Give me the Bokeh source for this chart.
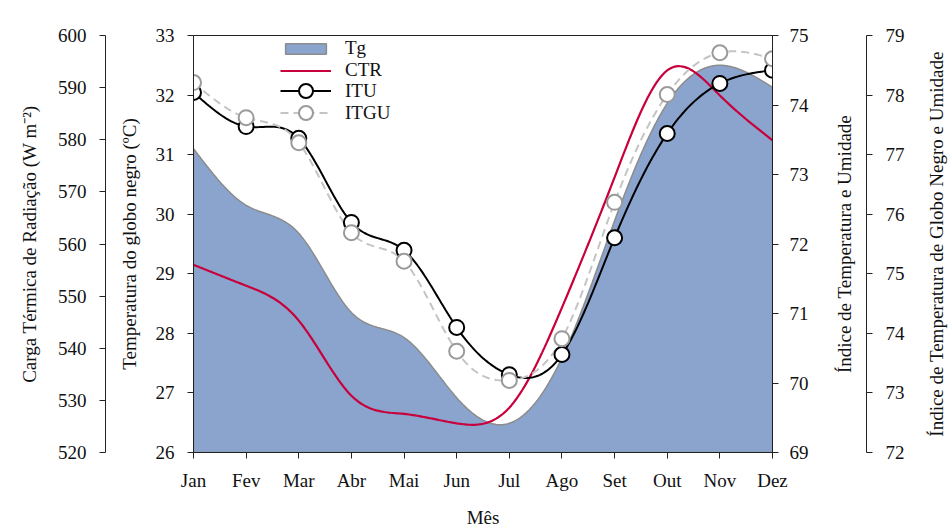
import math
import numpy as np
from bokeh.plotting import figure
from bokeh.layouts import row
from bokeh.models import Range1d, LinearAxis, FixedTicker, Legend, LegendItem
from bokeh.core.properties import value
from bokeh.embed import file_html
from bokeh.resources import INLINE

# ---------------- data ----------------
months = ["Jan", "Fev", "Mar", "Abr", "Mai", "Jun", "Jul", "Ago", "Set", "Out", "Nov", "Dez"]
tg = [31.10, 30.15, 29.68, 28.35, 27.93, 26.92, 26.49, 27.59, 29.89, 31.86, 32.50, 32.13]
ctr = [556.0, 552.0, 545.3, 530.9, 527.4, 525.6, 528.6, 547.8, 572.8, 593.3, 588.5, 579.9]
itu = [74.18, 73.69, 73.52, 72.31, 71.91, 70.80, 70.12, 70.41, 72.09, 73.59, 74.31, 74.50]
itgu = [78.21, 77.62, 77.20, 75.69, 75.21, 73.70, 73.21, 73.91, 76.20, 78.01, 78.71, 78.61]

tg_ticks = [26, 27, 28, 29, 30, 31, 32, 33]
ctr_ticks = [520, 530, 540, 550, 560, 570, 580, 590, 600]
itu_ticks = [69, 70, 71, 72, 73, 74, 75]
itgu_ticks = [72, 73, 74, 75, 76, 77, 78, 79]

title_tg = "Temperatura do globo negro (ºC)"
title_ctr = "Carga Térmica de Radiação (W m⁻²)"
title_itu = "Índice de Temperatura e Umidade"
title_itgu = "Índice de Temperatura de Globo Negro e Umidade"
title_x = "Mês"

FONT = "Liberation Serif"
FS = "19px"

# layout (page pixels)
W, H = 949, 531
FL, FR, FT, FB = 193, 772, 35, 452     # main frame edges
W_MAIN = 815                            # main figure: up to the inner right axis labels
W_SIDE = 92                             # middle strip: ITU title + outer right axis
ITGU_AXIS_X = 868
ITU_TITLE_X = 845


def smooth(y, per=24):
    """Natural cubic spline through the monthly values (display smoothing only)."""
    y = np.asarray(y, float)
    n = len(y)
    A = np.zeros((n, n))
    b = np.zeros(n)
    A[0, 0] = A[-1, -1] = 1.0
    for i in range(1, n - 1):
        A[i, i - 1], A[i, i], A[i, i + 1] = 1.0, 4.0, 1.0
        b[i] = 6.0 * (y[i + 1] - 2 * y[i] + y[i - 1])
    M = np.linalg.solve(A, b)
    xs = np.linspace(0, n - 1, (n - 1) * per + 1)
    i = np.minimum(np.floor(xs).astype(int), n - 2)
    t = xs - i
    ys = (((1 - t) ** 3) * M[i] + (t ** 3) * M[i + 1]) / 6.0 \
        + (y[i] - M[i] / 6.0) * (1 - t) + (y[i + 1] - M[i + 1] / 6.0) * t
    return xs, ys


def style(ax):
    ax.major_label_text_font = FONT
    ax.major_label_text_font_size = FS
    ax.major_label_text_color = "#111111"
    ax.axis_label_text_font = FONT
    ax.axis_label_text_font_size = FS
    ax.axis_label_text_font_style = "normal"
    ax.axis_label_text_color = "#111111"
    ax.major_tick_out = 6
    ax.major_tick_in = 0
    ax.minor_tick_out = 0
    ax.minor_tick_in = 0
    ax.axis_line_color = "#222222"
    ax.major_tick_line_color = "#222222"
    return ax


def spacer(width, tick, range_name="default", label=None, label_standoff=0):
    ax = LinearAxis(y_range_name=range_name, ticker=FixedTicker(ticks=[tick]),
                    major_label_overrides={tick: ""})
    style(ax)
    ax.axis_line_color = None
    ax.major_tick_line_color = None
    ax.minor_tick_line_color = None
    ax.major_tick_out = width
    ax.major_tick_in = 0
    ax.minor_tick_out = 0
    ax.major_label_standoff = 0
    ax.major_label_text_font_size = "1px"
    ax.major_label_text_alpha = 0
    if label is not None:
        ax.axis_label = label
        ax.axis_label_standoff = label_standoff
    return ax


xm = list(range(len(months)))

# ---------------- main figure ----------------
p = figure(width=W_MAIN, height=H,
           x_range=Range1d(0, len(months) - 1),
           y_range=Range1d(tg_ticks[0], tg_ticks[-1]),
           x_axis_location=None, y_axis_location=None,
           output_backend="svg", toolbar_location=None,
           min_border_left=FL, min_border_right=W_MAIN - FR,
           min_border_top=FT, min_border_bottom=H - FB)
p.extra_y_ranges = {
    "ctr": Range1d(ctr_ticks[0], ctr_ticks[-1]),
    "itu": Range1d(itu_ticks[0], itu_ticks[-1]),
    "itgu": Range1d(itgu_ticks[0], itgu_ticks[-1]),
}
p.grid.visible = False
p.outline_line_color = "#222222"
p.background_fill_color = "white"
p.border_fill_color = "white"

xax = style(LinearAxis(ticker=FixedTicker(ticks=xm),
                       major_label_overrides={i: m for i, m in enumerate(months)},
                       axis_label=title_x))
xax.major_label_standoff = 11
xax.axis_label_standoff = 13
p.add_layout(xax, "below")

ax_tg = style(LinearAxis(ticker=FixedTicker(ticks=tg_ticks), axis_label=title_tg))
ax_tg.major_label_standoff = 13
ax_tg.axis_label_standoff = 13
ax_ctr = style(LinearAxis(y_range_name="ctr", ticker=FixedTicker(ticks=ctr_ticks),
                          axis_label=title_ctr))
ax_ctr.major_label_standoff = 13
ax_ctr.axis_label_standoff = 15
p.add_layout(ax_tg, "left")
p.add_layout(spacer(10, tg_ticks[0]), "left")
p.add_layout(ax_ctr, "left")

ax_itu = style(LinearAxis(y_range_name="itu", ticker=FixedTicker(ticks=itu_ticks)))
ax_itu.major_label_standoff = 11
p.add_layout(ax_itu, "right")

# Tg area
sx, sy = smooth(tg)
base = tg_ticks[0]
r_tg = p.patch(list(sx) + [sx[-1], sx[0]], list(sy) + [base, base],
               fill_color="#8aa4ce", line_color="#8c8c8c", line_width=1.5)

# CTR
cx, cy = smooth(ctr)
r_ctr = p.line(cx, cy, y_range_name="ctr", line_color="#c8003c", line_width=2.2)

# ITU / ITGU
ux, uy = smooth(itu)
r_itu_l = p.line(ux, uy, y_range_name="itu", line_color="black", line_width=2)
gx, gy = smooth(itgu)
r_itgu_l = p.line(gx, gy, y_range_name="itgu", line_color="#c4c4c4", line_width=2,
                  line_dash="8 5")
r_itu_m = p.scatter(xm, itu, y_range_name="itu", marker="circle", size=15,
                    fill_color="white", line_color="black", line_width=2)
r_itgu_m = p.scatter(xm, itgu, y_range_name="itgu", marker="circle", size=15,
                     fill_color="white", line_color="#9a9a9a", line_width=2)


def make_legend(items, loc, gh, lh, sp):
    lg = Legend(items=items, location=loc)
    lg.label_text_font = FONT
    lg.label_text_font_size = FS
    lg.label_text_color = "#111111"
    lg.glyph_width = 51
    lg.glyph_height = gh
    lg.label_height = lh
    lg.spacing = sp
    lg.padding = 2
    lg.margin = 0
    lg.label_standoff = 14
    lg.border_line_color = None
    lg.background_fill_alpha = 0
    return lg


p.add_layout(make_legend([LegendItem(label="Tg", renderers=[r_tg]),
                          LegendItem(label="CTR", renderers=[r_ctr])],
                         (87, 371), 13, 21, 0))
p.add_layout(make_legend([LegendItem(label="ITU", renderers=[r_itu_l, r_itu_m])],
                         (87, 344), 35, 21, 0))
p.add_layout(make_legend([LegendItem(label="ITGU", renderers=[r_itgu_l, r_itgu_m])],
                         (87, 322), 35, 21, 0))

# ---------------- middle strip: ITU title and the outer right (ITGU) axis ----------------
x_side_end = W_MAIN + W_SIDE
s = figure(width=W_SIDE, height=H,
           x_range=Range1d(W_MAIN, ITGU_AXIS_X),
           y_range=Range1d(itgu_ticks[0], itgu_ticks[-1]),
           x_axis_location=None, y_axis_location=None,
           output_backend="svg", toolbar_location=None,
           min_border_left=0, min_border_right=x_side_end - ITGU_AXIS_X,
           min_border_top=FT, min_border_bottom=H - FB)
s.grid.visible = False
s.outline_line_color = None
s.background_fill_color = "white"
s.border_fill_color = "white"

ax_itgu = style(LinearAxis(ticker=FixedTicker(ticks=itgu_ticks)))
ax_itgu.major_label_standoff = 13
s.add_layout(ax_itgu, "right")

mid = (itgu_ticks[0] + itgu_ticks[-1]) / 2
s.text(x=[ITU_TITLE_X], y=[mid], text=[title_itu],
       angle=math.pi / 2, text_align="center", text_baseline="middle",
       text_font=value(FONT), text_font_size=value(FS), text_color="#111111")

# ---------------- last strip: ITGU title (as an axis title, reading upwards) ----------------
W_LAST = W - x_side_end
t = figure(width=W_LAST, height=H,
           x_range=Range1d(0, 1),
           y_range=Range1d(itgu_ticks[0], itgu_ticks[-1]),
           x_axis_location=None, y_axis_location=None,
           output_backend="svg", toolbar_location=None,
           min_border_left=W_LAST - 2, min_border_right=0,
           min_border_top=FT, min_border_bottom=H - FB)
t.grid.visible = False
t.outline_line_color = None
t.background_fill_color = "white"
t.border_fill_color = "white"
t.add_layout(spacer(0, itgu_ticks[0], label=title_itgu, label_standoff=1), "left")

layout = row(p, s, t, spacing=0)
open("out.html", "w").write(file_html(layout, INLINE))
